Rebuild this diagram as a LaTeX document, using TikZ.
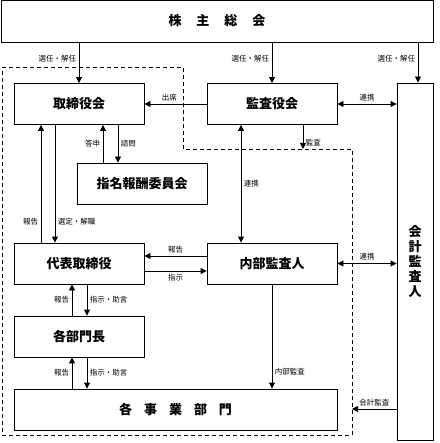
\documentclass[tikz,border=0pt]{standalone}
\usepackage{fontspec}
\setmainfont{Noto Sans CJK JP}
\usetikzlibrary{arrows.meta}

\tikzset{
  box/.style={draw, line width=0.9pt, minimum width=130pt, minimum height=41pt, inner sep=0pt,
    font=\fontsize{13}{14}\selectfont\bfseries},
  arr/.style={line width=0.9pt, -{Triangle[length=6pt,width=6pt]}},
  darr/.style={line width=0.9pt, {Triangle[length=6pt,width=6pt]}-{Triangle[length=6pt,width=6pt]}},
  lbl/.style={font=\fontsize{7.5}{8}\selectfont, inner sep=2.5pt},
  grp/.style={line width=0.9pt, dash pattern=on 4pt off 3pt},
}

\begin{document}
\begin{tikzpicture}[x=1pt,y=-1pt]
  \useasboundingbox (0,0) rectangle (439,443);

  % boxes
  \node[box, minimum width=432pt, minimum height=42pt] (soukai) at (217,21)
    {株\hspace{15pt}主\hspace{15pt}総\hspace{15pt}会};
  \node[box] (torishimari) at (79,104) {取締役会};
  \node[box] (kansayaku) at (272,104) {監査役会};
  \node[box, minimum width=36pt, minimum height=357pt, align=center,
    font=\fontsize{13}{15}\selectfont\bfseries] (kaikei) at (415,261.5) {会\\計\\監\\査\\人};
  \node[box] (shimei) at (142,183.5) {指名報酬委員会};
  \node[box] (daihyo) at (79,263.5) {代表取締役};
  \node[box] (naibu) at (272,263.5) {内部監査人};
  \node[box] (buchou) at (79,336.5) {各部門長};
  \node[box, minimum width=323pt] (jigyou) at (175.5,409.5)
    {各\hspace{12pt}事\hspace{12pt}業\hspace{12pt}部\hspace{12pt}門};

  % group of the company
  \draw[grp] (2,67) -- (183,67) -- (183,149) -- (352,149) -- (352,435) -- (2,435) -- cycle;
  \coordinate (grpkansa) at (303,149);
  \coordinate (grpkaikei) at (352,409);

  % from the shareholders
  \draw[arr] (soukai.south -| torishimari) -- node[lbl, left, pos=.4] {選任・解任} (torishimari.north);
  \draw[arr] (soukai.south -| kansayaku) -- node[lbl, left, pos=.4] {選任・解任} (kansayaku.north);
  \draw[arr] (soukai.south -| 418,0) -- node[lbl, left, pos=.4] {選任・解任} (kaikei.north -| 418,0);

  % auditors
  \draw[arr] (kansayaku.west) -- node[lbl, above, pos=.6] {出席} (torishimari.east);
  \draw[darr] (kansayaku.east) -- node[lbl, above] {連携} (kansayaku.east -| kaikei.west);
  \draw[arr] (kansayaku.south -| grpkansa) -- node[lbl, right, pos=.75] {監査} (grpkansa);
  \draw[darr] (kansayaku.south -| 241,0) -- node[lbl, right] {連携} (naibu.north -| 241,0);
  \draw[darr] (naibu.east) -- node[lbl, above] {連携} (naibu.east -| kaikei.west);
  \draw[arr] (kaikei.west |- grpkaikei) -- node[lbl, above] {会計監査} (grpkaikei);

  % board
  \draw[arr] (shimei.north -| 103,0) -- node[lbl, left] {答申} (torishimari.south -| 103,0);
  \draw[arr] (torishimari.south -| 118,0) -- node[lbl, right] {諮問} (shimei.north -| 118,0);
  \draw[arr] (daihyo.north -| 41,0) -- node[lbl, left, pos=.18] {報告} (torishimari.south -| 41,0);
  \draw[arr] (torishimari.south -| 55,0) -- node[lbl, right, pos=.82] {選定・解職} (daihyo.north -| 55,0);

  % internal audit
  \draw[arr] (naibu.west |- 0,256) -- node[lbl, above] {報告} (daihyo.east |- 0,256);
  \draw[arr] (daihyo.east |- 0,271) -- node[lbl, below] {指示} (naibu.west |- 0,271);
  \draw[arr] (naibu.south) -- node[lbl, right, pos=.84] {内部監査} (jigyou.north -| naibu);

  % line of command
  \draw[arr] (buchou.north -| 72,0) -- node[lbl, left] {報告} (daihyo.south -| 72,0);
  \draw[arr] (daihyo.south -| 87,0) -- node[lbl, right] {指示・助言} (buchou.north -| 87,0);
  \draw[arr] (jigyou.north -| 72,0) -- node[lbl, left] {報告} (buchou.south -| 72,0);
  \draw[arr] (buchou.south -| 87,0) -- node[lbl, right] {指示・助言} (jigyou.north -| 87,0);
\end{tikzpicture}
\end{document}
